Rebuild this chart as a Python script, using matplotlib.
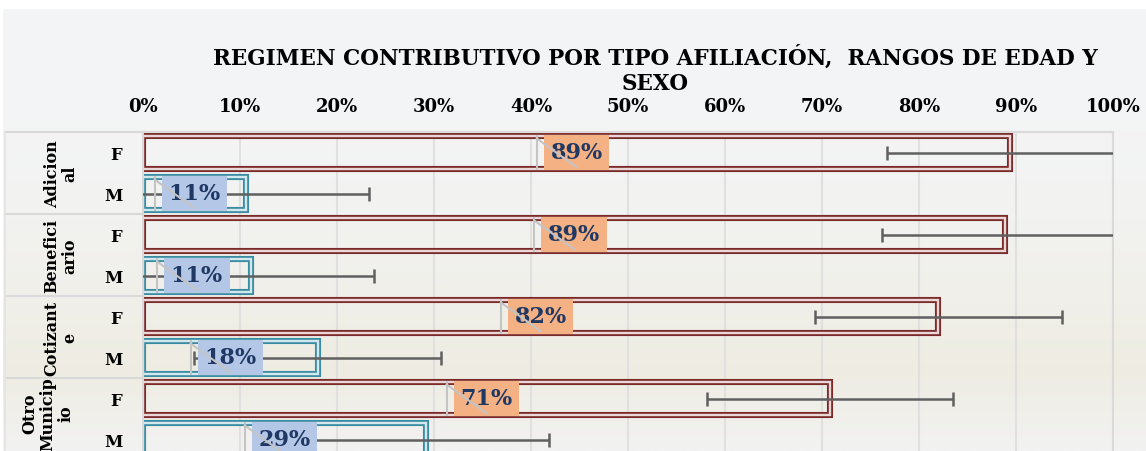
import numpy as np
import matplotlib
matplotlib.use("Agg")
import matplotlib.pyplot as plt
from matplotlib.transforms import blended_transform_factory
from matplotlib.lines import Line2D

# Datos
categorias = ["Adicion\nal", "Benefici\nario", "Cotizant\ne", "Otro\nMunicip\nio"]
sexo = ["F", "M"]
femenino = [89.4, 88.9, 82.0, 70.8]
masculino = [10.6, 11.1, 18.0, 29.2]
error_f = [12.7, 12.7, 12.7, 12.7]
error_m = [12.7, 12.7, 12.7, 12.7]
ticks_x = [0, 10, 20, 30, 40, 50, 60, 70, 80, 90, 100]

W, H = 1146, 452
SERIF = "DejaVu Serif"
plt.rcParams["font.family"] = SERIF

fig = plt.figure(figsize=(W / 100, H / 100), dpi=100)
fig.patch.set_facecolor("white")

# fondo con degradado suave
bg = fig.add_axes([3 / W, 0, 1 - 3 / W, (H - 10) / H], zorder=-10)
c_top = np.array([244, 245, 247]) / 255
c_beige = np.array([238, 236, 226]) / 255
c_bot = np.array([242, 242, 242]) / 255
rows = 200
img = np.zeros((rows, 1, 3))
for r in range(rows):
    t = r / (rows - 1)
    if t < 0.82:
        img[r, 0] = c_top + (c_beige - c_top) * (t / 0.82) ** 2
    else:
        img[r, 0] = c_beige + (c_bot - c_beige) * ((t - 0.82) / 0.18)
bg.imshow(img, aspect="auto", extent=[0, 1, 0, 1], origin="upper")
bg.set_axis_off()

ax_left, ax_right, ax_top = 143 / W, 1113 / W, (H - 133) / H
ax = fig.add_axes([ax_left, 0, ax_right - ax_left, ax_top])
ax.set_facecolor("none")

slot = 41.0
visible = 319 / slot
y_f = [2 * i for i in range(len(femenino))]
y_m = [2 * i + 1 for i in range(len(masculino))]
alto = 0.82

# barras con borde doble
ax.barh(y_f, femenino, height=alto, facecolor="none", edgecolor="#7b2a2a", lw=4.4, zorder=2)
ax.barh(y_f, femenino, height=alto, facecolor="none", edgecolor="#ead8d8", lw=1.7, zorder=2)
ax.barh(y_m, masculino, height=alto, facecolor="none", edgecolor="#3a8ca2", lw=4.4, zorder=2)
ax.barh(y_m, masculino, height=alto, facecolor="none", edgecolor="#d3e8ee", lw=1.7, zorder=2)

ax.errorbar(femenino, y_f, xerr=error_f, fmt="none", ecolor="#606060", elinewidth=1.8, capsize=5, capthick=1.8, zorder=3)
ax.errorbar(masculino, y_m, xerr=error_m, fmt="none", ecolor="#606060", elinewidth=1.8, capsize=5, capthick=1.8, zorder=3)

ax.set_xlim(0, 100)
ax.set_ylim(-0.5 + visible, -0.5)
ax.xaxis.tick_top()
ax.set_xticks(ticks_x)
ax.set_xticklabels([f"{t}%" for t in ticks_x], fontsize=13, fontweight="bold")
ax.set_yticks(y_f + y_m)
ax.set_yticklabels(["F"] * len(y_f) + ["M"] * len(y_m), fontsize=12, fontweight="bold")
ax.tick_params(axis="x", length=0, pad=12)
ax.tick_params(axis="y", length=0, pad=15)
ax.grid(axis="x", color="#e0e0e0", lw=1.5, zorder=0)
ax.set_axisbelow(True)
for s in ["top", "right", "left"]:
    ax.spines[s].set_color("#dadada")
    ax.spines[s].set_linewidth(1.5)
ax.spines["bottom"].set_visible(False)

# tabla de categorias a la izquierda
tr = blended_transform_factory(fig.transFigure, ax.transData)
for yb in [-0.5, 1.5, 3.5, 5.5]:
    fig.add_artist(Line2D([5 / W, ax_left], [yb, yb], transform=tr, color="#d9d9d9", lw=1.5))
fig.add_artist(Line2D([5 / W, 5 / W], [-0.5, 8], transform=tr, color="#e4e4e4", lw=1.2))
cx = [61, 61, 61, 48]
cy = [0.5, 2.5, 4.5, 6.35]
for i, cat in enumerate(categorias):
    fig.text(cx[i] / W, cy[i], cat, transform=tr, rotation=90, ha="center", va="center",
             fontsize=11.5, fontweight="bold", linespacing=1.05, multialignment="center")

# etiquetas de datos
etiquetas = []
for v, y in zip(femenino, y_f):
    t = ax.text(v / 2, y, f"{v:.0f}%", ha="center", va="center", fontsize=16, fontweight="bold",
                color="#203864", zorder=5,
                bbox=dict(boxstyle="square,pad=0.3", facecolor="#f4b183", edgecolor="none"))
    etiquetas.append((t, y))
for v, y in zip(masculino, y_m):
    t = ax.text(v / 2, y, f"{v:.0f}%", ha="center", va="center", fontsize=16, fontweight="bold",
                color="#203864", zorder=5,
                bbox=dict(boxstyle="square,pad=0.3", facecolor="#b4c7e7", edgecolor="none"))
    etiquetas.append((t, y))

fig.text(655 / W, (H - 70) / H, "REGIMEN CONTRIBUTIVO POR TIPO AFILIACIÓN,  RANGOS DE EDAD Y\nSEXO",
         ha="center", va="center", fontsize=15.5, fontweight="bold", linespacing=1.2)

# lineas guia de las etiquetas
fig.canvas.draw()
renderer = fig.canvas.get_renderer()
inv = ax.transData.inverted()
for t, y in etiquetas:
    bb = t.get_bbox_patch().get_window_extent(renderer)
    xl = inv.transform((bb.x0 - 7, 0))[0]
    xc = inv.transform(((bb.x0 + bb.x1) / 2, 0))[0]
    yb_ = inv.transform((0, bb.y0 + 3))[1]
    ax.plot([xl, xl], [y - alto / 2, y + alto / 2], color="#c4c4c4", lw=1.5, zorder=6, clip_on=False)
    ax.plot([xl, xc], [y - alto / 2 + 0.07, yb_], color="#c4c4c4", lw=1.5, zorder=6, clip_on=False)

fig.savefig("out.png", dpi=100)
